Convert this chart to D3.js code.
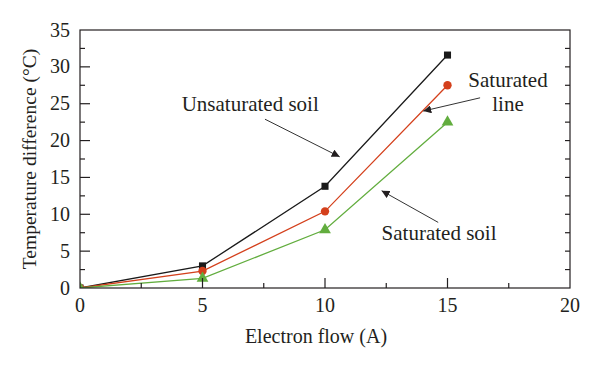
<!DOCTYPE html>
<html>
<head>
<meta charset="utf-8">
<script src="https://cdn.jsdelivr.net/npm/d3@7"></script>
<style>
  body { margin: 0; background: #fff; }
  text { font-family: "Liberation Serif", "DejaVu Serif", serif; fill: #231f20; }
</style>
</head>
<body>
<div id="chart"></div>
<script>
// data
var current = [0, 5, 10, 15];
var unsaturated = [0, 3.0, 13.8, 31.6];
var saturatedLine = [0, 2.3, 10.4, 27.5];
var saturatedSoil = [0, 1.3, 7.9, 22.5];
var xTicks = [0, 5, 10, 15, 20];
var yTicks = [0, 5, 10, 15, 20, 25, 30, 35];

var width = 600;
var height = 367;
var pLeft = 80, pRight = 570, pTop = 30, pBottom = 288;

var svg = d3.select("#chart").append("svg")
  .attr("width", width)
  .attr("height", height);

var xS = d3.scaleLinear().domain([0, 20]).range([pLeft, pRight]);
var yS = d3.scaleLinear().domain([0, 35]).range([pBottom, pTop]);

var series = [
  { name: "Unsaturated soil", vals: unsaturated, color: "#1a1a1a", shape: "square" },
  { name: "Saturated line", vals: saturatedLine, color: "#d4401c", shape: "circle" },
  { name: "Saturated soil", vals: saturatedSoil, color: "#62ad3e", shape: "triangle" }
];

var defs = svg.append("defs");
defs.append("clipPath").attr("id", "plotClip")
  .append("rect")
  .attr("x", pLeft).attr("y", pTop)
  .attr("width", pRight - pLeft).attr("height", pBottom - pTop);

// lines
var line = d3.line()
  .x(function(d, i) { return xS(current[i]); })
  .y(function(d) { return yS(d); });

var plot = svg.append("g").attr("clip-path", "url(#plotClip)");

series.forEach(function(s) {
  plot.append("path")
    .attr("d", line(s.vals))
    .attr("fill", "none")
    .attr("stroke", s.color)
    .attr("stroke-width", 1.3);

  var sym = s.shape === "square" ? d3.symbolSquare :
            s.shape === "circle" ? d3.symbolCircle : d3.symbolTriangle;
  var size = s.shape === "square" ? 50 : s.shape === "circle" ? 55 : 60;
  plot.selectAll(null).data(s.vals).enter()
    .append("path")
    .attr("d", d3.symbol().type(sym).size(size))
    .attr("transform", function(d, i) {
      return "translate(" + xS(current[i]) + "," + yS(d) + ")";
    })
    .attr("fill", s.color);
});

// frame
var frame = svg.append("g").attr("stroke", "#231f20").attr("stroke-width", 1.2).attr("fill", "none");
frame.append("rect")
  .attr("x", pLeft).attr("y", pTop)
  .attr("width", pRight - pLeft).attr("height", pBottom - pTop);

// bottom ticks (inside)
d3.range(0, 20.01, 2.5).forEach(function(v) {
  if (v === 0 || v === 20) return;
  var major = v % 5 === 0;
  frame.append("line")
    .attr("x1", xS(v)).attr("x2", xS(v))
    .attr("y1", pBottom).attr("y2", pBottom - (major ? 10 : 5));
});
// left ticks (inside) and right ticks
d3.range(0, 35.01, 2.5).forEach(function(v) {
  if (v === 0 || v === 35) return;
  var major = v % 5 === 0;
  frame.append("line")
    .attr("x1", pLeft).attr("x2", pLeft + (major ? 10 : 5))
    .attr("y1", yS(v)).attr("y2", yS(v));
  frame.append("line")
    .attr("x1", pRight).attr("x2", pRight - 5)
    .attr("y1", yS(v)).attr("y2", yS(v));
});

// tick labels
svg.selectAll(".xTick").data(xTicks).enter()
  .append("text")
  .attr("class", "xTick")
  .attr("x", function(d) { return xS(d); })
  .attr("y", 312)
  .attr("text-anchor", "middle")
  .attr("font-size", 20)
  .text(function(d) { return d; });

svg.selectAll(".yTick").data(yTicks).enter()
  .append("text")
  .attr("class", "yTick")
  .attr("x", 70)
  .attr("y", function(d) { return yS(d); })
  .attr("dy", "0.33em")
  .attr("text-anchor", "end")
  .attr("font-size", 20)
  .text(function(d) { return d; });

// axis titles
svg.append("text")
  .attr("x", 316)
  .attr("y", 343)
  .attr("text-anchor", "middle")
  .attr("font-size", 20)
  .text("Electron flow (A)");

svg.append("text")
  .attr("transform", "translate(36," + ((pTop + pBottom) / 2) + ")rotate(-90)")
  .attr("text-anchor", "middle")
  .attr("font-size", 19.5)
  .text("Temperature difference (°C)");

// annotations
defs.append("marker")
  .attr("id", "arrow")
  .attr("viewBox", "0 0 10 10")
  .attr("refX", 10).attr("refY", 5)
  .attr("markerWidth", 8).attr("markerHeight", 8)
  .attr("markerUnits", "userSpaceOnUse")
  .attr("orient", "auto")
  .append("path")
  .attr("d", "M0,0L10,5L0,10Z")
  .attr("fill", "#231f20");

var arrows = [
  [7.55, 22.9, 10.6, 17.8],
  [16.33, 25.8, 14.01, 24.0],
  [14.62, 8.9, 12.31, 13.2]
];
arrows.forEach(function(a) {
  svg.append("line")
    .attr("x1", xS(a[0])).attr("y1", yS(a[1]))
    .attr("x2", xS(a[2])).attr("y2", yS(a[3]))
    .attr("stroke", "#333")
    .attr("stroke-width", 1)
    .attr("marker-end", "url(#arrow)");
});

svg.append("text")
  .attr("x", xS(4.15)).attr("y", yS(24.0))
  .attr("font-size", 21)
  .text("Unsaturated soil");

svg.append("text")
  .attr("x", xS(17.47)).attr("y", yS(27.3))
  .attr("text-anchor", "middle")
  .attr("font-size", 21)
  .text("Saturated");
svg.append("text")
  .attr("x", xS(17.47)).attr("y", yS(24.0))
  .attr("text-anchor", "middle")
  .attr("font-size", 21)
  .text("line");

svg.append("text")
  .attr("x", xS(12.31)).attr("y", yS(6.5))
  .attr("font-size", 21)
  .text("Saturated soil");
</script>
</body>
</html>
